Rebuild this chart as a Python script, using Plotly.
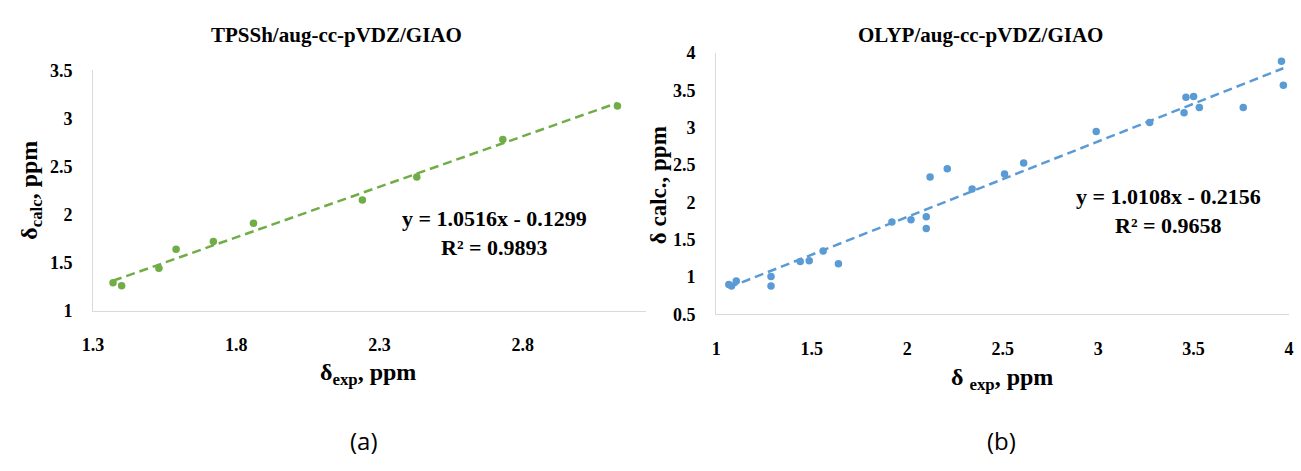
import plotly.graph_objects as go

# ---------------- data ----------------
tpssh_exp = [1.37, 1.40, 1.53, 1.59, 1.72, 1.86, 2.24, 2.43, 2.73, 3.13]
tpssh_calc = [1.29, 1.26, 1.44, 1.64, 1.72, 1.91, 2.15, 2.39, 2.78, 3.13]
tpssh_slope, tpssh_intercept = 1.0516, -0.1299
tpssh_eq = "y = 1.0516x - 0.1299"
tpssh_r2 = "R² = 0.9893"

olyp_exp = [1.066, 1.08, 1.105, 1.287, 1.287, 1.44, 1.487, 1.56, 1.64, 1.92, 2.02,
            2.10, 2.10, 2.12, 2.21, 2.34, 2.51, 2.61, 2.99, 3.27, 3.45, 3.46, 3.50,
            3.53, 3.76, 3.96, 3.97]
olyp_calc = [0.90, 0.88, 0.95, 1.01, 0.88, 1.21, 1.22, 1.35, 1.18, 1.74, 1.77,
             1.81, 1.65, 2.34, 2.45, 2.18, 2.38, 2.53, 2.95, 3.07, 3.20, 3.41, 3.42,
             3.27, 3.27, 3.89, 3.57]
olyp_slope, olyp_intercept = 1.0108, -0.2156
olyp_eq = "y = 1.0108x - 0.2156"
olyp_r2 = "R² = 0.9658"

left_xticks = [1.3, 1.8, 2.3, 2.8]
left_yticks = [1, 1.5, 2, 2.5, 3, 3.5]
right_xticks = [1, 1.5, 2, 2.5, 3, 3.5, 4]
right_yticks = [0.5, 1, 1.5, 2, 2.5, 3, 3.5, 4]

# ---------------- layout helpers ----------------
W, H = 1301, 471
def px(x):
    return x / W
def py(y):
    return 1 - y / H

GREEN = "#70AD47"
BLUE = "#5B9BD5"
AXIS = "#D9D9D9"
SERIF = "Liberation Serif"

fig = go.Figure()

def trend(xs, slope, intercept):
    x0, x1 = min(xs), max(xs)
    return [x0, x1], [slope * x0 + intercept, slope * x1 + intercept]

# left
tx, ty = trend(tpssh_exp, tpssh_slope, tpssh_intercept)
fig.add_trace(go.Scatter(x=tx, y=ty, mode="lines", xaxis="x", yaxis="y",
                         line=dict(color=GREEN, width=2.5, dash="9px,5px"),
                         hoverinfo="skip", showlegend=False))
fig.add_trace(go.Scatter(x=tpssh_exp, y=tpssh_calc, mode="markers", xaxis="x", yaxis="y",
                         marker=dict(color=GREEN, size=7.5), showlegend=False))
# right
tx, ty = trend(olyp_exp, olyp_slope, olyp_intercept)
fig.add_trace(go.Scatter(x=tx, y=ty, mode="lines", xaxis="x2", yaxis="y2",
                         line=dict(color=BLUE, width=2.5, dash="9px,5px"),
                         hoverinfo="skip", showlegend=False))
fig.add_trace(go.Scatter(x=olyp_exp, y=olyp_calc, mode="markers", xaxis="x2", yaxis="y2",
                         marker=dict(color=BLUE, size=7.5), showlegend=False))

tickfont = dict(family=SERIF, size=18, color="#000000", weight="bold")
common = dict(showgrid=False, zeroline=False, showline=True, linecolor=AXIS,
              linewidth=1, ticks="", tickfont=tickfont)

fig.update_layout(
    width=W, height=H, autosize=False,
    margin=dict(l=0, r=0, t=0, b=0),
    paper_bgcolor="white", plot_bgcolor="white",
    xaxis=dict(domain=[px(83), px(643)], range=[1.3, 3.23], anchor="y",
               tickvals=left_xticks, ticktext=[str(v) for v in left_xticks],
               ticklabelstandoff=18, **common),
    yaxis=dict(domain=[py(314), py(63)], range=[1, 3.5], anchor="x",
               tickvals=left_yticks, ticktext=[f"{v:g}" for v in left_yticks],
               ticklabelstandoff=16, **common),
    xaxis2=dict(domain=[px(714), px(1294)], range=[1, 4], anchor="y2",
                tickvals=right_xticks, ticktext=[f"{v:g}" for v in right_xticks],
                ticklabelstandoff=18, **common),
    yaxis2=dict(domain=[py(318), py(45)], range=[0.5, 4], anchor="x2",
                tickvals=right_yticks, ticktext=[f"{v:g}" for v in right_yticks],
                ticklabelstandoff=16, **common),
)

def ann(text, x, y, size, bold=True, angle=0, family=SERIF, xref="paper", yref="paper"):
    fig.add_annotation(text=text, x=x, y=y, xref=xref, yref=yref, showarrow=False,
                       xanchor="center", yanchor="middle", textangle=angle,
                       font=dict(family=family, size=size, color="#000000",
                                 weight="bold" if bold else "normal"))

# titles
ann("TPSSh/aug-cc-pVDZ/GIAO", px(330), py(26), 21)
ann("OLYP/aug-cc-pVDZ/GIAO", px(982), py(26), 21)
# axis titles
ann("δ<sub>calc</sub>, ppm", px(20), py(188), 24, angle=-90)
ann("δ<sub>exp</sub>, ppm", px(361), py(380), 24)
ann("δ calc., ppm", px(655), py(183), 23, angle=-90)
ann("δ <sub>exp</sub>, ppm", px(1003), py(385), 24)
# equations (in data coordinates)
ann(tpssh_eq, 2.70, 1.96, 22, xref="x", yref="y")
ann(tpssh_r2, 2.70, 1.66, 22, xref="x", yref="y")
ann(olyp_eq, 3.37, 2.08, 22, xref="x2", yref="y2")
ann(olyp_r2, 3.37, 1.69, 22, xref="x2", yref="y2")
# panel labels
ann("(a)", px(357), py(450), 24, bold=False, family="Open Sans")
ann("(b)", px(1003), py(450), 24, bold=False, family="Open Sans")

fig.write_html("out.html")
